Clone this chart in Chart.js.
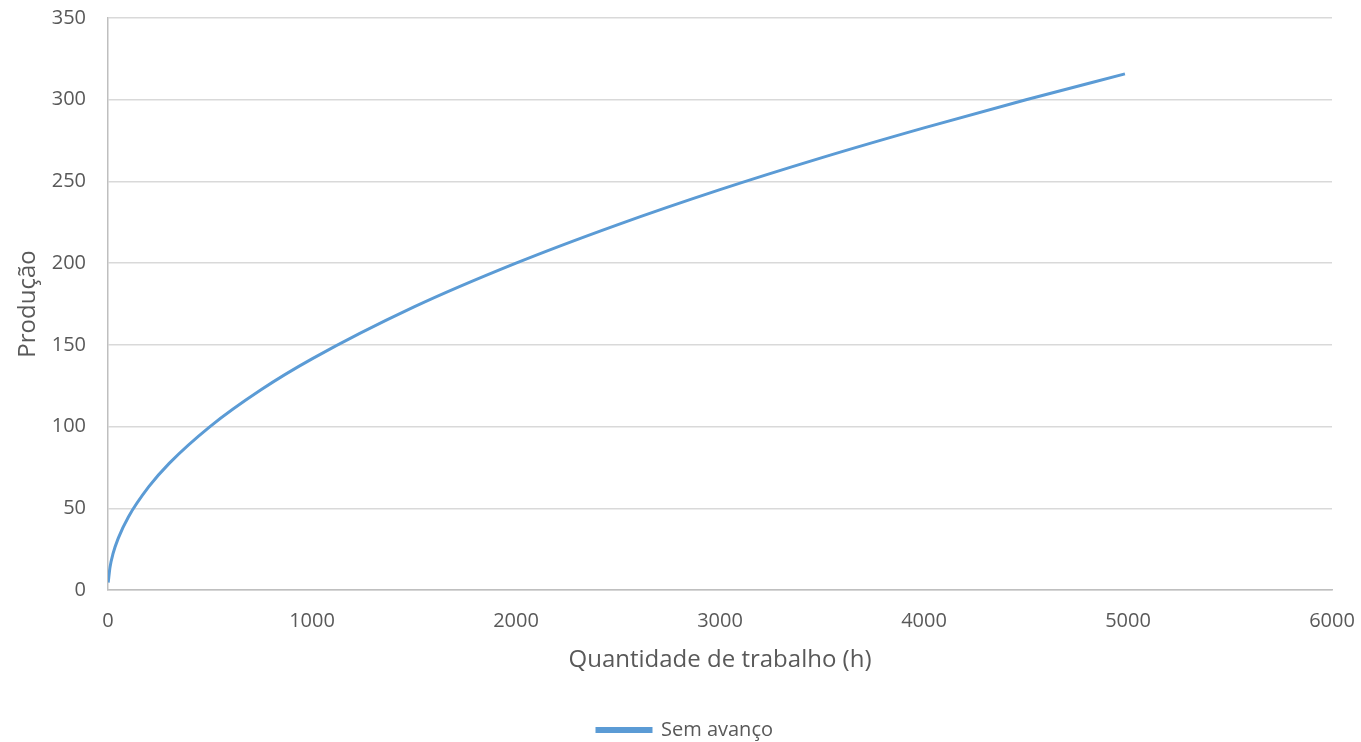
<!DOCTYPE html>
<html>
<head>
<meta charset="utf-8">
<script src="https://cdn.jsdelivr.net/npm/chart.js@4"></script>
<style>
  html, body { margin: 0; padding: 0; background: #fff; }
  #wrap { width: 1361px; height: 742px; }
</style>
</head>
<body>
<div id="wrap"><canvas id="chart" width="1361" height="742"></canvas></div>
<script>
// horas de trabalho (eixo x) e produção
const horas = [1, 10, 25, 50, 100, 200, 300, 500, 750, 1000, 1500, 2000, 2500, 3000, 3500, 4000, 4500, 4985];
const producao = [4.5, 14, 22.4, 31.6, 44.7, 63.2, 77.5, 100, 122.5, 141.4, 173.2, 200, 223.6, 245, 264.6, 282.8, 300, 315.8];
const serieNome = "Sem avanço";
const tituloX = "Quantidade de trabalho (h)";
const tituloY = "Produção";

const corLinha = "#5B9BD5";
const corTexto = "#595959";
const fonte = { family: "'Open Sans', sans-serif", size: 20 };
const fonteTitulo = { family: "'Open Sans', sans-serif", size: 24 };

const pontos = horas.map((h, i) => ({ x: h, y: producao[i] }));

new Chart(document.getElementById("chart").getContext("2d"), {
    type: "line",
    data: {
        datasets: [{
            label: serieNome,
            data: pontos,
            borderColor: corLinha,
            backgroundColor: corLinha,
            borderWidth: 3,
            pointRadius: 0,
            cubicInterpolationMode: "monotone"
        }]
    },
    options: {
        responsive: false,
        animation: false,
        // margem esquerda maior só para centrar a legenda como no original
        layout: { padding: { top: 18, right: 29, bottom: -8, left: 38 } },
        plugins: {
            legend: {
                position: "bottom",
                labels: {
                    color: corTexto,
                    font: fonte,
                    boxWidth: 54,
                    boxHeight: 3,
                    padding: 0
                }
            },
            tooltip: { enabled: false }
        },
        scales: {
            x: {
                type: "linear",
                min: 0,
                max: 6000,
                ticks: { stepSize: 1000, color: corTexto, font: fonte, padding: 19, maxRotation: 0,
                         callback: (v) => String(v) },
                grid: { display: false, drawTicks: false },
                border: { display: true, color: "#BFBFBF", width: 1.5 },
                title: { display: true, text: tituloX, color: corTexto, font: fonteTitulo, padding: { top: 0, bottom: 45 } },
                afterFit: (s) => { s.height = 130; s.paddingLeft = 0; s.paddingRight = 0; }
            },
            y: {
                min: 0,
                max: 350,
                ticks: { stepSize: 50, color: corTexto, font: fonte, padding: 22 },
                grid: { color: "#D9D9D9", drawTicks: false, lineWidth: 1.5 },
                border: { display: true, color: "#BFBFBF", width: 1.5 },
                title: { display: true, text: tituloY, color: corTexto, font: fonteTitulo, padding: { top: -24, bottom: 0 } },
                afterFit: (s) => { s.width = 70; s.paddingTop = 0; s.paddingBottom = 0; }
            }
        }
    }
});
</script>
</body>
</html>
